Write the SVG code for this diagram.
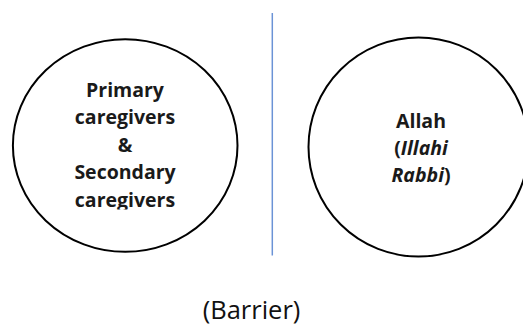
<svg xmlns="http://www.w3.org/2000/svg" width="523" height="326" viewBox="0 0 523 326">
<style>
.node{fill:#ffffff;stroke:#000000;stroke-width:2}
.lbl{font-family:"Open Sans","Noto Sans","Liberation Sans",sans-serif;font-size:19.5px;font-weight:700;fill:#1a1a1a;text-anchor:middle}
.cap{font-family:"Open Sans","Noto Sans","Liberation Sans",sans-serif;font-size:25.5px;font-weight:400;fill:#111111;text-anchor:middle}
.barrier{stroke:#6b93d6;stroke-width:1.5;fill:none}
</style>
<defs>
<clipPath id="clipL"><rect x="0" y="0" width="260" height="209.5"/></clipPath>
</defs>
<rect width="523" height="326" fill="#ffffff"/>
<g id="connectors">
<line class="barrier" x1="272.3" y1="13" x2="272.3" y2="255.5"/>
</g>
<g id="node-caregivers">
<ellipse class="node" cx="125.2" cy="145.5" rx="112.3" ry="106.3"/>
<g clip-path="url(#clipL)">
<text class="lbl" x="125" y="96.5">Primary</text>
<text class="lbl" x="125" y="124">caregivers</text>
<text class="lbl" x="125" y="151.5">&amp;</text>
<text class="lbl" x="125" y="179">Secondary</text>
<text class="lbl" x="125" y="206.5">caregivers</text>
</g>
</g>
<g id="node-allah">
<ellipse class="node" cx="418.5" cy="147" rx="110" ry="109.5"/>
<text class="lbl" x="421" y="127.5">Allah</text>
<text class="lbl" x="421" y="154.5">(<tspan font-style="italic">Illahi</tspan></text>
<text class="lbl" x="421" y="181.5"><tspan font-style="italic">Rabbi</tspan>)</text>
</g>
<g id="caption">
<text class="cap" x="251.5" y="318.5">(Barrier)</text>
</g>
</svg>
